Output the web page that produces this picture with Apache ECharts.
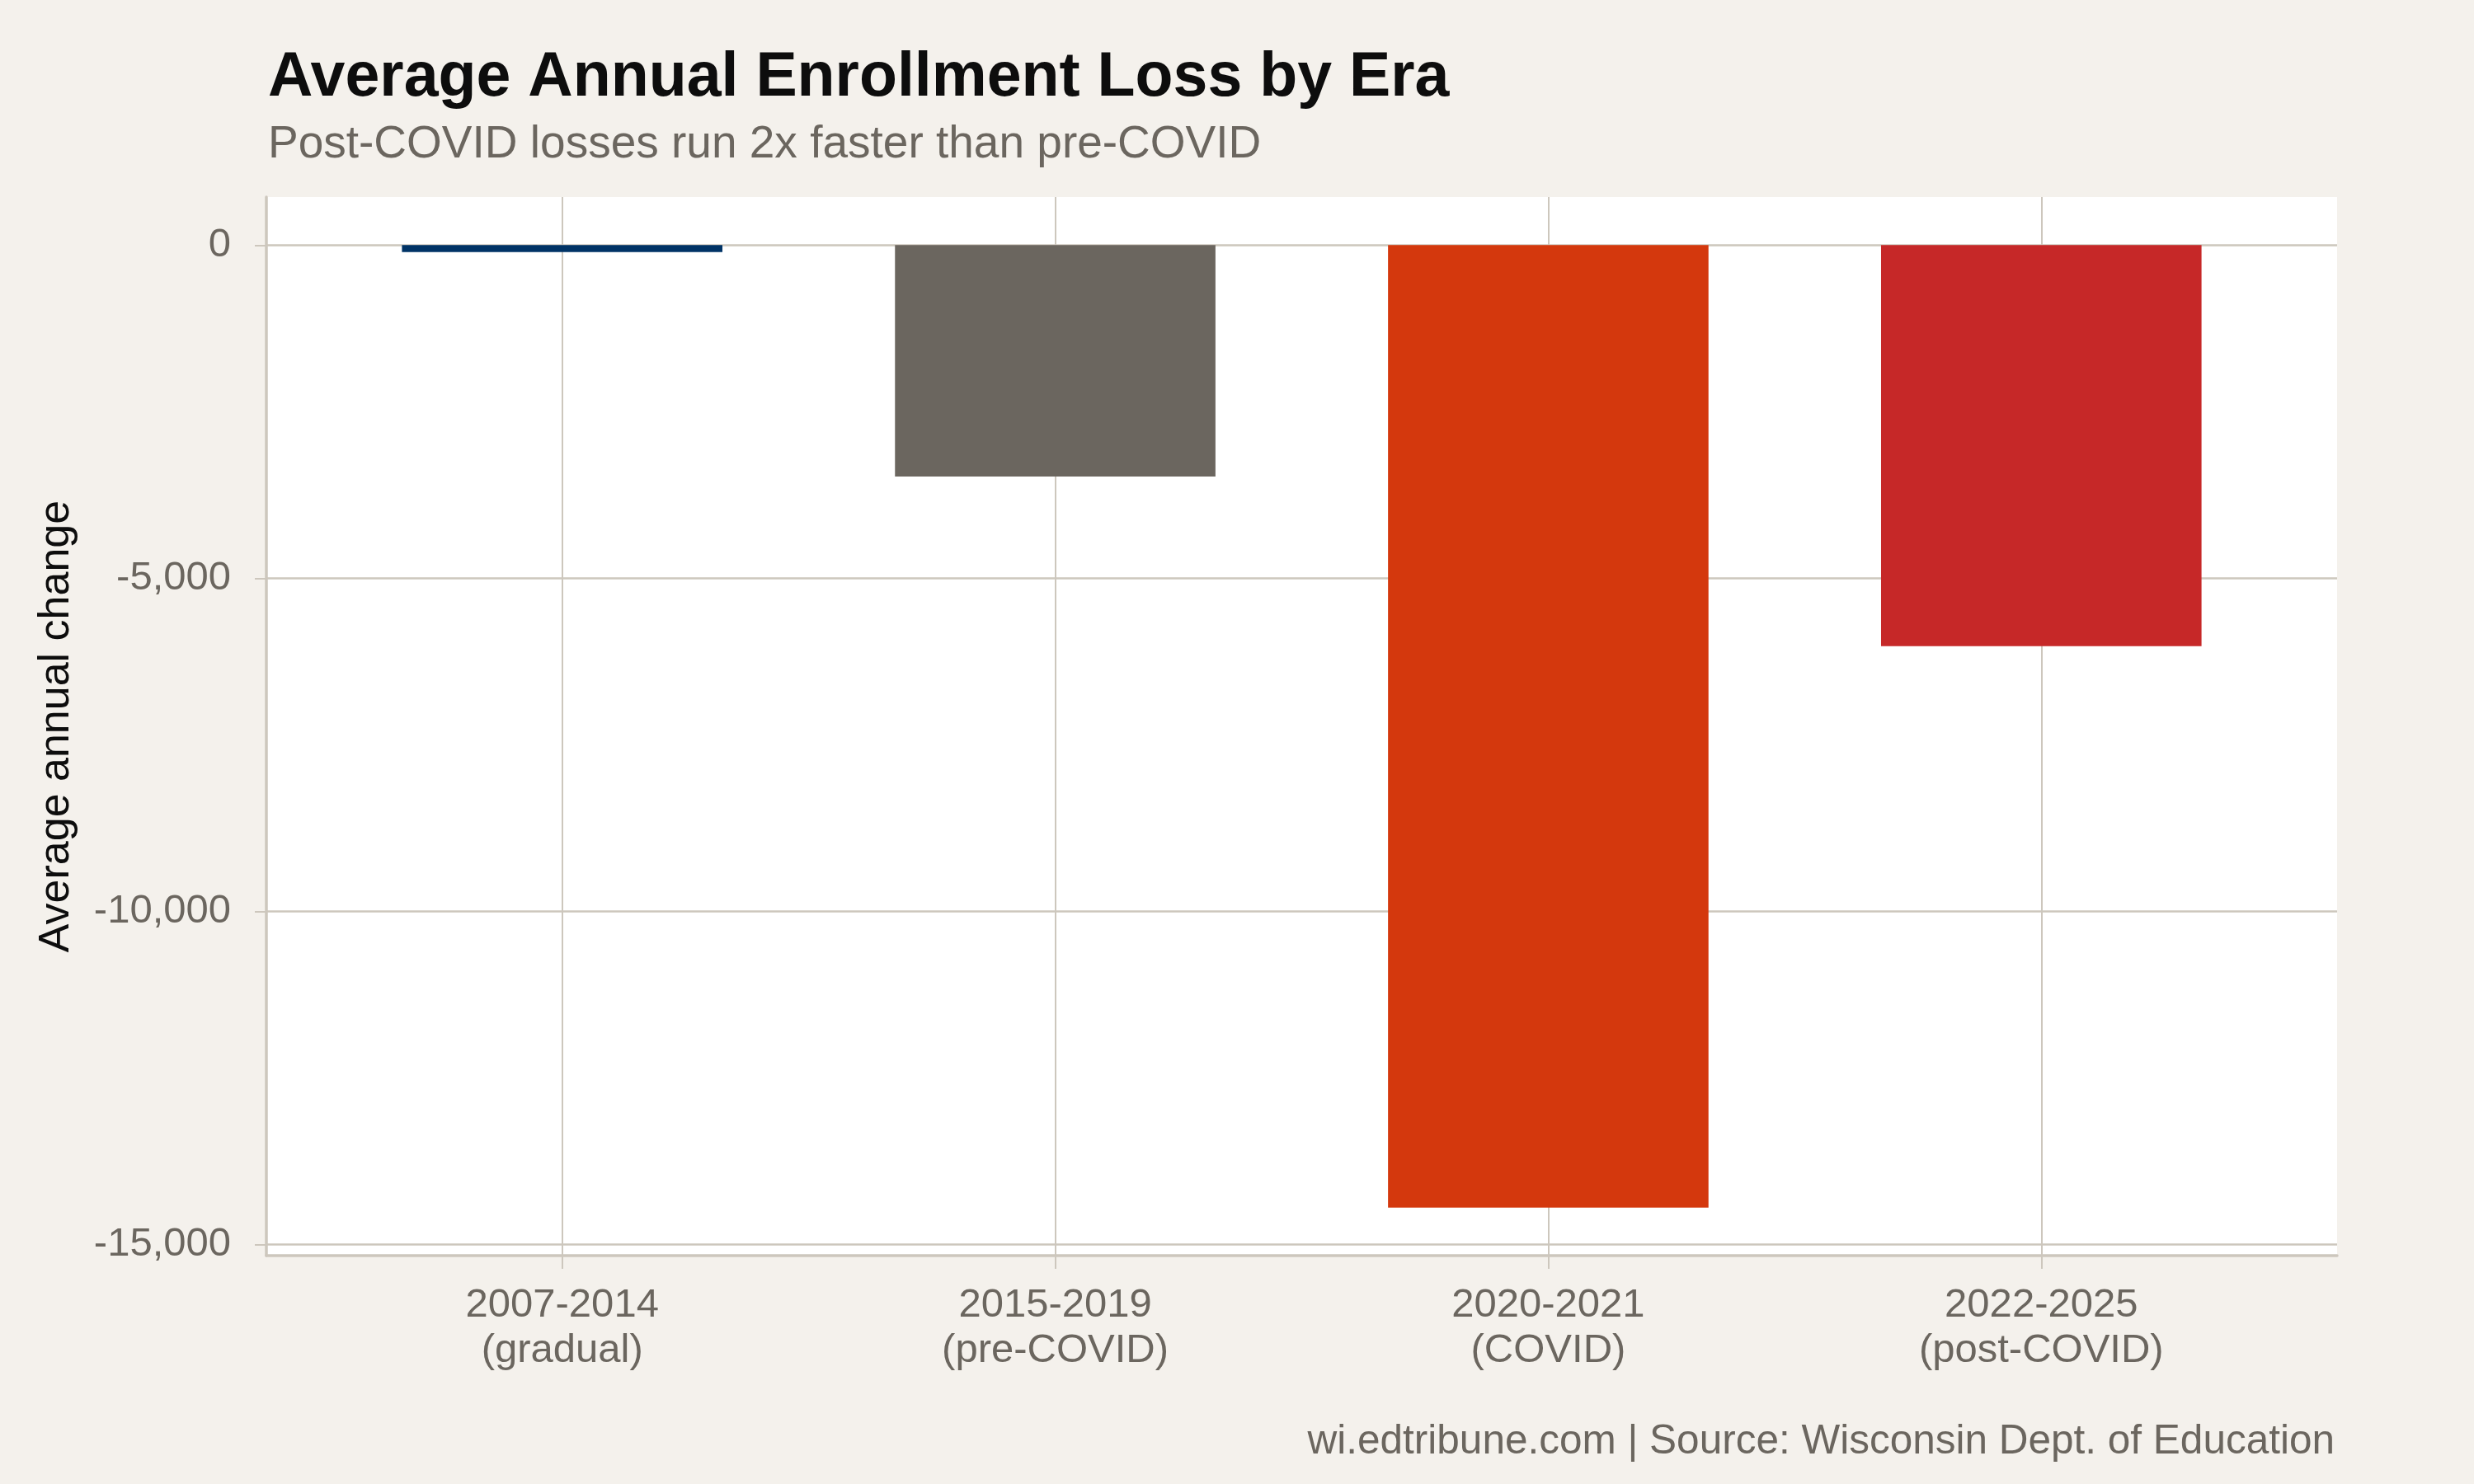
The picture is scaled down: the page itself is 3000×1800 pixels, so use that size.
<!DOCTYPE html>
<html>
<head>
<meta charset="utf-8">
<script src="https://cdn.jsdelivr.net/npm/echarts@6.0.0/dist/echarts.min.js"></script>
<style>
  html, body { margin: 0; padding: 0; background: #f4f1ec; }
  #chart { width: 3000px; height: 1800px; }
</style>
</head>
<body>
<div id="chart"></div>
<script>
// data
const periods = ["2007-2014", "2015-2019", "2020-2021", "2022-2025"];
const eras = ["gradual", "pre-COVID", "COVID", "post-COVID"];
const avgChange = [-105, -3473, -14444, -6018];
const yTicks = [-15000, -10000, -5000, 0];

// styling
const barColors = ["#003366", "#6b665f", "#d4380d", "#c62828"];
const gridColor = "#cdc7bd";
const greyText = "#6b665f";
const font = "Liberation Sans";

const chart = echarts.init(document.getElementById("chart"));

// ggplot-like 5% expansion on the value axis
const lo = Math.min(0, ...avgChange);
const hi = Math.max(0, ...avgChange);
const pad = (hi - lo) * 0.05;

const catPos = periods.map((p, i) => i + 1);

const option = {
  backgroundColor: "#f4f1ec",
  animation: false,
  title: [
    {
      text: "Average Annual Enrollment Loss by Era",
      left: 325,
      top: 58,
      padding: 0,
      textStyle: { fontFamily: font, fontSize: 75.3, fontWeight: "bold", color: "#0d0d0d" },
    },
    {
      text: "Post-COVID losses run 2x faster than pre-COVID",
      left: 325,
      top: 148,
      padding: 0,
      textStyle: { fontFamily: font, fontSize: 55, fontWeight: "normal", color: greyText },
    },
    {
      text: "wi.edtribune.com | Source: Wisconsin Dept. of Education",
      right: 169,
      top: 1724,
      padding: 0,
      textStyle: { fontFamily: font, fontSize: 49.5, fontWeight: "normal", color: greyText },
    },
  ],
  grid: {
    left: 323,
    right: 166,
    top: 239,
    bottom: 277,
    show: true,
    backgroundColor: "#ffffff",
    borderWidth: 0,
  },
  xAxis: {
    type: "value",
    min: 0.4,
    max: periods.length + 0.6,
    axisLine: { show: true, onZero: false, lineStyle: { color: gridColor, width: 3.5 } },
    axisTick: { show: true, length: 16, customValues: catPos, lineStyle: { color: gridColor, width: 2 } },
    splitLine: { show: true, lineStyle: { color: gridColor, width: 2 } },
    axisLabel: {
      customValues: catPos,
      margin: 33,
      fontFamily: font,
      fontSize: 49,
      lineHeight: 55,
      color: greyText,
      formatter: (v) => {
        const i = Math.round(v) - 1;
        return periods[i] + "\n(" + eras[i] + ")";
      },
    },
  },
  yAxis: {
    type: "value",
    min: lo - pad,
    max: hi + pad,
    name: "Average annual change",
    nameLocation: "middle",
    nameGap: 228,
    nameTextStyle: { fontFamily: font, fontSize: 52, color: "#0d0d0d" },
    axisLine: { show: true, onZero: false, lineStyle: { color: gridColor, width: 3.5 } },
    axisTick: { show: true, length: 14, customValues: yTicks, lineStyle: { color: gridColor, width: 2 } },
    splitLine: { show: true, lineStyle: { color: gridColor, width: 2.5 } },
    axisLabel: {
      customValues: yTicks,
      margin: 43,
      fontFamily: font,
      fontSize: 49,
      color: greyText,
      formatter: (v) => Math.round(v).toLocaleString("en-US"),
    },
  },
  series: [
    {
      type: "bar",
      barWidth: "65%",
      data: avgChange.map((v, i) => ({
        value: [catPos[i], v],
        itemStyle: { color: barColors[i] },
      })),
    },
  ],
};

chart.setOption(option);
</script>
</body>
</html>
